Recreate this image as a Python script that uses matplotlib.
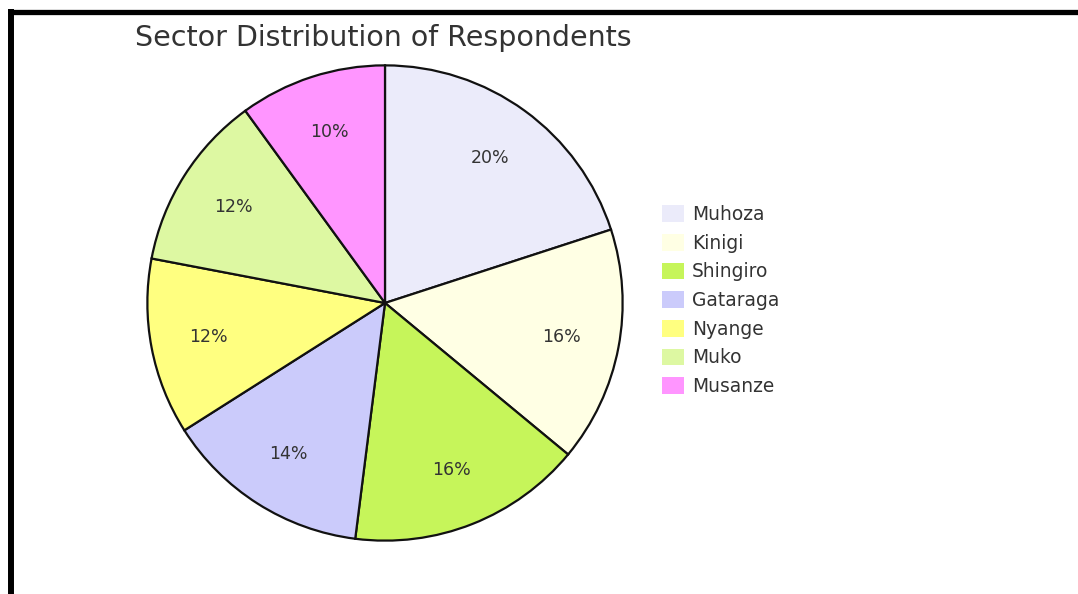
import matplotlib
matplotlib.use("Agg")
import matplotlib.pyplot as plt
from matplotlib.lines import Line2D

# data
sectors = ["Muhoza", "Kinigi", "Shingiro", "Gataraga", "Nyange", "Muko", "Musanze"]
shares = [20, 16, 16, 14, 12, 12, 10]
colors = ["#EBEBFA", "#FFFFE4", "#C6F55A", "#CBCBFB", "#FFFF80", "#DDF8A2", "#FF95FF"]
title = "Sector Distribution of Respondents"

fig = plt.figure(figsize=(10.78, 5.94), dpi=100)
fig.patch.set_facecolor("white")

# pie centred at (385, 303) px with radius 240 px
W, H = 1078, 594
cx, cy, r = 385, 303, 240
ax = fig.add_axes([(cx - r) / W, (H - cy - r) / H, 2 * r / W, 2 * r / H])
wedges, texts, autotexts = ax.pie(
    shares,
    colors=colors,
    startangle=90,
    counterclock=False,
    autopct="%d%%",
    pctdistance=0.755,
    wedgeprops=dict(edgecolor="#111111", linewidth=1.6),
    textprops=dict(fontsize=12.5, color="#333333"),
)
ax.set_xlim(-1.01, 1.01)
ax.set_ylim(-1.01, 1.01)
ax.set_aspect("equal")
ax.axis("off")

# title
fig.text(135 / W, (H - 38) / H, title, fontsize=20.5, color="#333333",
         ha="left", va="center")

# legend on the right
fig.legend(wedges, sectors, loc="upper left",
           bbox_to_anchor=(662 / W, (H - 205) / H),
           frameon=False, fontsize=13.4, labelspacing=0.52,
           handlelength=1.2, handleheight=1.0, handletextpad=0.4,
           borderpad=0, borderaxespad=0, labelcolor="#333333")
for h in fig.legends[0].legend_handles:
    h.set_edgecolor("none")

# black frame lines (top and left)
fig.add_artist(Line2D([8 / W, 1], [(H - 11.5) / H] * 2, color="black",
                      linewidth=3.8, solid_capstyle="butt",
                      transform=fig.transFigure))
fig.add_artist(Line2D([11 / W] * 2, [0, (H - 9) / H], color="black",
                      linewidth=4.3, solid_capstyle="butt",
                      transform=fig.transFigure))

fig.savefig("out.png", dpi=100)
